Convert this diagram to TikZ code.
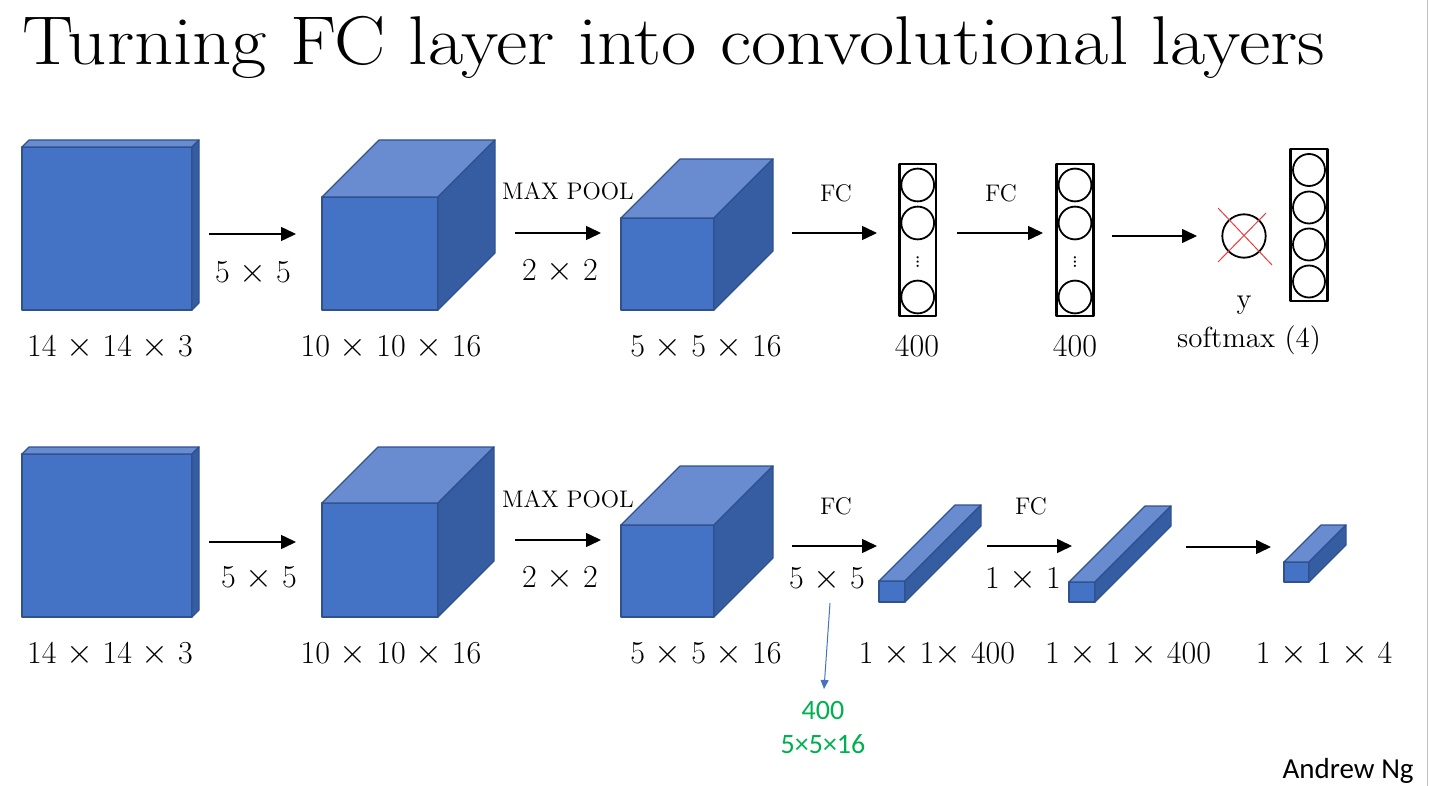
\documentclass[tikz,border=0pt]{standalone}
\usepackage{amsmath,amssymb}
\usepackage{fontspec}
\newfontfamily\carlito{Carlito}
\usepackage{tikz}
\usetikzlibrary{arrows.meta}
\definecolor{frontc}{RGB}{68,114,196}
\definecolor{topc}{RGB}{104,140,207}
\definecolor{sidec}{RGB}{54,93,161}
\definecolor{edgec}{RGB}{47,82,143}
\definecolor{notec}{RGB}{0,176,80}
\definecolor{crossc}{RGB}{235,60,60}
\tikzset{every picture/.style={x=0.5pt, y=-0.5pt, line join=round}}
\tikzset{titletext/.style={anchor=base west, inner sep=0pt, font=\fontsize{34.5}{40}\selectfont}}
\tikzset{dims/.style={anchor=base, inner sep=0pt, font=\fontsize{16}{19}\selectfont}}
\tikzset{opl/.style={anchor=base, inner sep=0pt, font=\fontsize{12}{14}\selectfont}}
\tikzset{sml/.style={anchor=base, inner sep=0pt, font=\fontsize{14.5}{17}\selectfont}}
\tikzset{note/.style={anchor=base, inner sep=0pt, text=notec, font=\carlito\fontsize{14}{17}\selectfont}}
\tikzset{arr/.style={line width=0.75pt, -{Triangle[length=7.5pt, width=7pt]}}}
\tikzset{thinarr/.style={draw=frontc, line width=0.5pt, -{Triangle[length=4.5pt, width=4pt]}}}
\tikzset{layerbox/.style={draw, line width=1.2pt, inner sep=0pt, minimum width=18.4pt, minimum height=76pt}}
\tikzset{neuron/.style={draw, circle, line width=0.9pt, inner sep=0pt, minimum size=16.4pt}}
\tikzset{vdot/.style={inner sep=0pt, rotate=90, font=\fontsize{11.5}{12}\selectfont}}
% front face at (#1,#2), width #3, height #4, depth #5
\newcommand{\layerblock}[5]{%
  \filldraw[fill=frontc, draw=edgec, line width=0.6pt] (#1,#2) rectangle ++(#3,#4);
  \filldraw[fill=topc, draw=edgec, line width=0.6pt] (#1,#2) -- ++(#5,-#5) -- ++(#3,0) -- ++(-#5,#5) -- cycle;
  \filldraw[fill=sidec, draw=edgec, line width=0.6pt] (#1+#3,#2) -- ++(#5,-#5) -- ++(0,#4) -- ++(-#5,#5) -- cycle;
}

\begin{document}
\begin{tikzpicture}
\useasboundingbox (0,0) rectangle (1429,786);
\draw[black!25, line width=0.75pt] (1427.5,0) -- (1427.5,786);
\node[titletext] (T) at (22,65) {\scalebox{1.113}[1]{Turning FC layer into convolutional layers}};

% top row
\layerblock{22}{147}{170}{163}{7}
\layerblock{322}{197}{116}{113}{57}
\layerblock{621}{218}{93}{92}{59}
\node[dims] (t1) at (110,356) {14 $\times$ 14 $\times$ 3};
\node[dims] (t2) at (253,283) {5 $\times$ 5};
\node[dims] (t3) at (391,356) {10 $\times$ 10 $\times$ 16};
\node[opl] (t4) at (568,200) {MAX POOL};
\node[dims] (t5) at (560,280) {2 $\times$ 2};
\node[dims] (t6) at (706,356) {5 $\times$ 5 $\times$ 16};
\node[opl] (t7) at (836,202) {FC};
\node[dims] (t8) at (917,356) {400};
\node[opl] (t9) at (1001,202) {FC};
\node[dims] (t10) at (1075,356) {400};
\node[sml] (t11) at (1244,308) {y};
\node[sml] (t12) at (1249,347) {softmax (4)};

\node[layerbox] (L1) at (917.7,240) {};
\node[neuron] (n1) at (917.7,185) {};
\node[neuron] (n2) at (917.7,223) {};
\node[neuron] (n3) at (917.7,297) {};
\node[vdot] (d1) at (917.7,262) {\ldots};
\node[layerbox] (L2) at (1075,240) {};
\node[neuron] (n4) at (1075,185) {};
\node[neuron] (n5) at (1075,223) {};
\node[neuron] (n6) at (1075,297) {};
\node[vdot] (d2) at (1075,262) {\ldots};
\node[neuron, minimum size=21.7pt] (yc) at (1244,236) {};
\draw[crossc, line width=0.5pt] (1218,208) -- (1272,265);
\draw[crossc, line width=0.5pt] (1266,213) -- (1218,262);
\node[layerbox] (L3) at (1309,225) {};
\node[neuron, minimum size=16pt] (s1) at (1309,170) {};
\node[neuron, minimum size=16pt] (s2) at (1309,207.5) {};
\node[neuron, minimum size=16pt] (s3) at (1309,244.5) {};
\node[neuron, minimum size=16pt] (s4) at (1309,281.5) {};

\coordinate (a1) at (209,234);
\coordinate (a2) at (296,234);
\coordinate (a3) at (515,233);
\coordinate (a4) at (601,233);
\coordinate (a5) at (792,233);
\coordinate (a6) at (877,233);
\coordinate (a7) at (957,233);
\coordinate (a8) at (1043,233);
\coordinate (a9) at (1112,236);
\coordinate (a10) at (1197,236);
\draw[arr] (a1) -- (a2);
\draw[arr] (a3) -- (a4);
\draw[arr] (a5) -- (a6);
\draw[arr] (a7) -- (a8);
\draw[arr] (a9) -- (a10);

% bottom row
\layerblock{22}{454}{170}{163}{7}
\layerblock{322}{503}{116}{114}{56}
\layerblock{621}{525}{93}{92}{59}
\layerblock{879}{581}{26}{21}{76}
\layerblock{1069}{582}{26}{20}{76}
\layerblock{1284}{562}{25}{20}{37}
\node[dims] (b1) at (110,663) {14 $\times$ 14 $\times$ 3};
\node[dims] (b2) at (259,587) {5 $\times$ 5};
\node[dims] (b3) at (391,663) {10 $\times$ 10 $\times$ 16};
\node[opl] (b4) at (568,507) {MAX POOL};
\node[dims] (b5) at (560,587) {2 $\times$ 2};
\node[dims] (b6) at (706,663) {5 $\times$ 5 $\times$ 16};
\node[opl] (b7) at (836,514) {FC};
\node[dims] (b8) at (827,588) {5 $\times$ 5};
\node[dims] (b9) at (937,663) {1 $\times$ 1$\times$ 400};
\node[opl] (b10) at (1031,514) {FC};
\node[dims] (b11) at (1023,588) {1 $\times$ 1};
\node[dims] (b12) at (1128,663) {1 $\times$ 1 $\times$ 400};
\node[dims] (b13) at (1324,663) {1 $\times$ 1 $\times$ 4};
\node[note] (g1) at (823,719) {400};
\node[note] (g2) at (823,753) {5×5×16};

\coordinate (c1) at (209,542);
\coordinate (c2) at (296,542);
\coordinate (c3) at (515,540);
\coordinate (c4) at (601,540);
\coordinate (c5) at (792,546);
\coordinate (c6) at (877,546);
\coordinate (c7) at (987,546);
\coordinate (c8) at (1072,546);
\coordinate (c9) at (1186,547);
\coordinate (c10) at (1271,547);
\draw[arr] (c1) -- (c2);
\draw[arr] (c3) -- (c4);
\draw[arr] (c5) -- (c6);
\draw[arr] (c7) -- (c8);
\draw[arr] (c9) -- (c10);
\coordinate (g0) at (830,603);
\coordinate (g3) at (824,689);
\draw[thinarr] (g0) -- (g3);

\node[anchor=base east, inner sep=0pt, font=\carlito\fontsize{14.5}{17}\selectfont] (AN) at (1414,778) {Andrew Ng};
\end{tikzpicture}
\end{document}
